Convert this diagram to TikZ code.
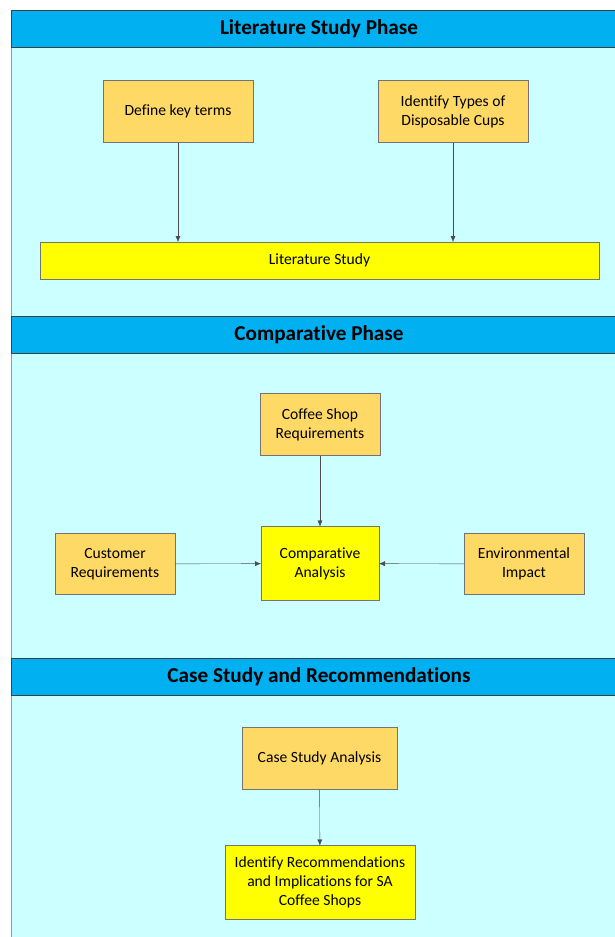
\documentclass[tikz,border=0pt]{standalone}
\usepackage{fontspec}
\setmainfont{Carlito}[Ligatures={NoCommon}]
\usetikzlibrary{positioning,arrows.meta}
\definecolor{hdrblue}{HTML}{00B0F0}
\definecolor{bodycyan}{HTML}{CCFFFF}
\definecolor{boxorange}{HTML}{FFD966}
\definecolor{boxyellow}{HTML}{FFFF00}

\begin{document}
\begin{tikzpicture}[x=1pt,y=-1pt,
				every node/.style={align=center,inner sep=0pt,outer sep=0pt,font=\fontsize{15.6}{19}\selectfont},
				phase/.style={draw=black!75,fill=hdrblue,minimum width=616pt,minimum height=37pt,font=\fontsize{21.2}{25}\selectfont\bfseries},
				task/.style={draw=black!55,fill=boxorange,minimum width=150pt,minimum height=62pt},
				result/.style={draw=black!55,fill=boxyellow},
				link/.style={draw=black!70,-{Latex[length=6pt,width=5pt]}}]
				\useasboundingbox (0,0) rectangle (615,937);
				\clip (0,0) rectangle (615,937);
				% phase bodies
				\draw[draw=black!40,fill=bodycyan] (11,47) rectangle (627,316);
				\draw[draw=black!40,fill=bodycyan] (11,353) rectangle (627,658);
				\draw[draw=black!40,fill=bodycyan] (11,695) rectangle (627,950);
				\node (P1) [phase] at (319,28.5)  {Literature Study Phase};
				\node (P2) [phase] at (319,334.5) {Comparative Phase};
				\node (P3) [phase] at (319,676.5) {Case Study and Recommendations};
				% literature study phase
				\node (DEF)   [task] at (178,111.5)   {Define key terms};
				\node (TYPES) [task] at (453,111.5)   {Identify Types of\\Disposable Cups};
				\node (LIT)   [result,minimum width=559pt,minimum height=37pt] at (319.5,260.5) {Literature Study};
				% comparative phase
				\node (SHOP)  [task,minimum width=120pt] at (320,424.5) {Coffee Shop\\Requirements};
				\node (COMP)  [result,minimum width=118pt,minimum height=74pt] at (320,563.5) {Comparative\\Analysis};
				\node (CUST)  [task,minimum width=120pt,minimum height=61pt] at (115,564) {Customer\\Requirements};
				\node (ENV)   [task,minimum width=120pt,minimum height=61pt] at (524,564) {Environmental\\Impact};
				% case study
				\node (CASE)  [task,minimum width=155pt] at (319.5,758.5) {Case Study Analysis};
				\node (REC)   [result,minimum width=190pt,minimum height=74pt] at (320,882.5) {Identify Recommendations\\and Implications for SA\\Coffee Shops};

				\draw[link] (DEF)   -- (DEF |- LIT.north);
				\draw[link] (TYPES) -- (TYPES |- LIT.north);
				\draw[link] (SHOP)  -- (COMP);
				\draw[link] (CUST)  -- (COMP);
				\draw[link] (ENV)   -- (COMP);
				\draw[link] (CASE)  -- (REC);
			\end{tikzpicture}
\end{document}
